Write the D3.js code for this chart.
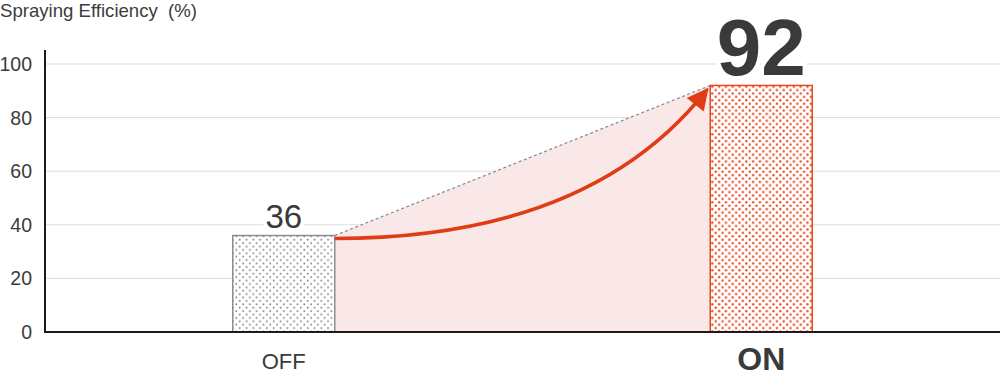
<!DOCTYPE html>
<html>
<head>
<meta charset="utf-8">
<script src="https://cdn.jsdelivr.net/npm/d3@7"></script>
<style>
  body { margin: 0; background: #fff; }
  svg { display: block; font-family: "Liberation Sans", Arial, sans-serif; }
</style>
</head>
<body>
<div class="sandbox"></div>
<script>
var categories = ["OFF", "ON"];
var values = [36, 92];
var yTicks = [0, 20, 40, 60, 80, 100];
var title = "Spraying Efficiency\u00a0 (%)";

var w = 1000, h = 376;
var svg = d3.select(".sandbox").append("svg").attr("width", w).attr("height", h);

var x = d3.scalePoint().domain(categories).range([45, 1000]).padding(0.5);
var y = d3.scaleLinear().domain([0, 100]).range([332, 64]);
var bw = 102;

// dot patterns
var defs = svg.append("defs");
var pats = [["dotGrey", "#7d7d7d", 0.9], ["dotRed", "#e8471c", 1.15]];
pats.forEach(function(p) {
  var pt = defs.append("pattern").attr("id", p[0]).attr("patternUnits", "userSpaceOnUse")
    .attr("width", 6.8).attr("height", 6.8);
  pt.append("rect").attr("width", 6.8).attr("height", 6.8).attr("fill", "#fff");
  pt.append("circle").attr("cx", 1.7).attr("cy", 1.7).attr("r", p[2]).attr("fill", p[1]);
  pt.append("circle").attr("cx", 5.1).attr("cy", 5.1).attr("r", p[2]).attr("fill", p[1]);
});
defs.append("marker").attr("id", "head").attr("viewBox", "0 0 10 10")
  .attr("refX", 9).attr("refY", 5).attr("markerWidth", 7).attr("markerHeight", 6)
  .attr("markerUnits", "strokeWidth").attr("orient", "auto")
  .append("path").attr("d", "M0,0 L10,5 L0,10 Z").attr("fill", "#e03c16");

// title
svg.append("text").attr("x", 0).attr("y", 17).attr("font-size", 18.6).attr("fill", "#3c3c3c").text(title);

// grid
svg.append("g").selectAll("line").data(yTicks.filter(function(d) { return d > 0; })).enter().append("line")
  .attr("x1", 45).attr("x2", 1000).attr("y1", function(d) { return y(d); }).attr("y2", function(d) { return y(d); })
  .attr("stroke", "#dcdcdc").attr("stroke-width", 1);

// y tick labels
svg.append("g").selectAll("text").data(yTicks).enter().append("text")
  .attr("x", 32).attr("y", function(d) { return y(d) + 7; })
  .attr("text-anchor", "end").attr("font-size", 19.5).attr("fill", "#3c3c3c").text(function(d) { return d; });

// shaded area between bars
var x0 = x(categories[0]) + bw / 2, x1 = x(categories[1]) - bw / 2;
svg.append("path")
  .attr("d", d3.line()([[x0, y(values[0])], [x1, y(values[1])], [x1, y(0)], [x0, y(0)]]) + "Z")
  .attr("fill", "#f9e8e7");
svg.append("line").attr("x1", x0).attr("y1", y(values[0])).attr("x2", x1).attr("y2", y(values[1]))
  .attr("stroke", "#888").attr("stroke-width", 1.2).attr("stroke-dasharray", "3,2.5");

// bars
svg.append("g").selectAll("rect").data(values).enter().append("rect")
  .attr("x", function(d, i) { return x(categories[i]) - bw / 2; })
  .attr("y", function(d) { return y(d); })
  .attr("width", bw).attr("height", function(d) { return y(0) - y(d); })
  .attr("fill", function(d, i) { return i ? "url(#dotRed)" : "url(#dotGrey)"; })
  .attr("stroke", function(d, i) { return i ? "#e8471c" : "#8a9091"; })
  .attr("stroke-width", 1.5);

// arrow
var p0 = [x0, y(values[0]) + 3], p2 = [x1 - 3, y(values[1]) + 4];
var ctrl = [590, p0[1]];
svg.append("path")
  .attr("d", "M" + p0 + " Q" + ctrl + " " + p2)
  .attr("fill", "none").attr("stroke", "#e03c16").attr("stroke-width", 3.6)
  .attr("marker-end", "url(#head)");

// axes
svg.append("line").attr("x1", 45).attr("x2", 45).attr("y1", 50).attr("y2", 333)
  .attr("stroke", "#231815").attr("stroke-width", 2);
svg.append("line").attr("x1", 44).attr("x2", 1000).attr("y1", 332).attr("y2", 332)
  .attr("stroke", "#231815").attr("stroke-width", 2);

// value labels
svg.append("g").selectAll("text").data(values).enter().append("text")
  .attr("x", function(d, i) { return x(categories[i]); })
  .attr("y", function(d, i) { return i ? y(d) - 10 : y(d) - 8; })
  .attr("text-anchor", "middle")
  .attr("font-size", function(d, i) { return i ? 80 : 33; })
  .attr("font-weight", function(d, i) { return i ? "bold" : "normal"; })
  .attr("fill", "#3c3939")
  .attr("stroke", "#fff").attr("stroke-width", 8).attr("paint-order", "stroke")
  .text(function(d) { return d; });

// category labels
svg.append("g").selectAll("text").data(categories).enter().append("text")
  .attr("x", function(d) { return x(d); })
  .attr("y", function(d, i) { return i ? 370 : 369; })
  .attr("text-anchor", "middle")
  .attr("font-size", function(d, i) { return i ? 32 : 22; })
  .attr("font-weight", function(d, i) { return i ? "bold" : "normal"; })
  .attr("fill", "#3c3939")
  .text(function(d) { return d; });
</script>
</body>
</html>
